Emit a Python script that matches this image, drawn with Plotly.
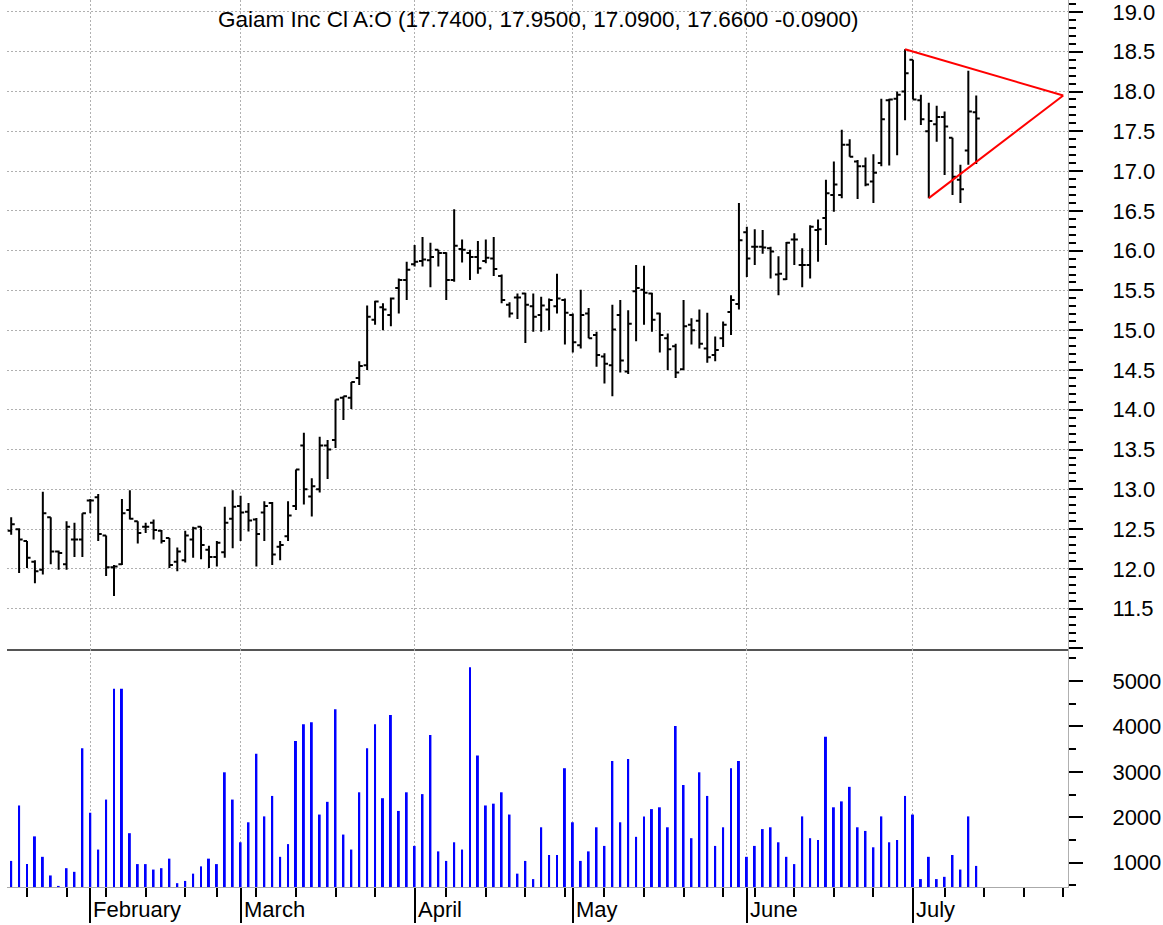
import pandas as pd
import plotly.graph_objects as go

TITLE = "Gaiam Inc Cl A:O (17.7400, 17.9500, 17.0900, 17.6600 -0.0900)"
FONT = "Liberation Sans, Arial, sans-serif"
GRID = "#b0b0b0"
GRID_DASH = "2px,2px"

# daily bars 18 Jan - 13 Jul 2007
opens = [
    12.48, 12.50, 12.35, 12.09, 11.99, 12.65, 12.22, 12.06, 12.37, 12.37,
    12.86, 12.90, 12.42, 12.02, 12.06, 12.74, 12.60, 12.53, 12.58, 12.48,
    12.39, 12.09, 12.11, 12.37, 12.53, 12.24, 12.15, 12.21, 12.63, 12.79,
    12.72, 12.62, 12.71, 12.83, 12.28, 12.41, 12.79, 13.55, 12.91, 13.00,
    13.55, 13.62, 14.15, 14.15, 14.40, 14.56, 15.13, 15.29, 15.19, 15.53,
    15.63, 15.83, 15.87, 15.88, 16.01, 15.97, 15.63, 16.02, 15.97, 15.92,
    15.87, 15.90, 15.68, 15.32, 15.41, 15.46, 15.30, 15.19, 15.26, 15.30,
    15.38, 15.19, 14.81, 15.21, 14.94, 14.67, 14.56, 15.19, 14.48, 15.49,
    15.51, 15.46, 15.21, 14.90, 14.80, 14.51, 15.07, 15.12, 14.77, 14.69,
    14.90, 15.23, 15.33, 16.23, 16.05, 16.05, 16.03, 15.70, 15.64, 16.14,
    15.82, 15.82, 16.26, 16.41, 16.70, 16.70, 17.33, 17.12, 17.06, 16.87,
    17.10, 17.89, 17.91, 18.00, 18.40, 17.89, 17.50, 17.59, 17.68, 17.42,
    16.89, 17.26, 17.74,
]
highs = [
    12.65, 12.51, 12.35, 12.11, 12.97, 12.65, 12.23, 12.60, 12.58, 12.70,
    12.88, 12.94, 12.42, 12.05, 12.88, 12.99, 12.60, 12.58, 12.62, 12.49,
    12.39, 12.27, 12.48, 12.53, 12.53, 12.29, 12.35, 12.78, 12.99, 12.92,
    12.83, 12.64, 12.85, 12.84, 12.35, 12.85, 13.25, 13.71, 13.14, 13.66,
    13.62, 14.13, 14.17, 14.35, 14.61, 15.31, 15.37, 15.34, 15.41, 15.65,
    15.86, 16.07, 16.17, 16.10, 16.01, 15.98, 16.52, 16.14, 16.01, 16.12,
    16.14, 16.17, 15.70, 15.35, 15.46, 15.47, 15.46, 15.42, 15.40, 15.71,
    15.40, 15.21, 15.51, 15.28, 14.98, 14.71, 15.32, 15.38, 15.25, 15.82,
    15.81, 15.47, 15.22, 14.96, 14.83, 15.38, 15.15, 15.26, 15.22, 14.92,
    15.11, 15.44, 16.60, 16.30, 16.27, 16.26, 16.05, 15.93, 16.11, 16.22,
    16.03, 16.32, 16.39, 16.89, 17.12, 17.52, 17.40, 17.14, 17.17, 17.21,
    17.91, 17.91, 18.00, 18.53, 18.40, 17.96, 17.86, 17.82, 17.75, 17.42,
    17.08, 18.26, 17.95,
]
lows = [
    12.43, 11.95, 12.01, 11.82, 11.93, 12.06, 11.99, 11.99, 12.15, 12.15,
    12.70, 12.35, 11.91, 11.66, 12.05, 12.62, 12.32, 12.45, 12.37, 12.32,
    12.01, 11.97, 12.08, 12.14, 12.12, 12.01, 12.03, 12.14, 12.26, 12.35,
    12.47, 12.03, 12.35, 12.05, 12.11, 12.35, 12.74, 12.81, 12.66, 12.96,
    13.13, 13.52, 13.87, 14.01, 14.31, 14.50, 15.07, 15.00, 15.05, 15.21,
    15.38, 15.80, 15.80, 15.54, 15.80, 15.38, 15.61, 15.85, 15.63, 15.71,
    15.84, 15.68, 15.34, 15.16, 15.14, 14.84, 14.98, 14.98, 15.00, 15.21,
    14.82, 14.72, 14.77, 14.90, 14.54, 14.33, 14.17, 14.47, 14.45, 14.86,
    15.07, 14.98, 14.72, 14.50, 14.40, 14.50, 14.82, 14.77, 14.59, 14.61,
    14.79, 14.94, 15.26, 15.67, 15.82, 15.96, 15.65, 15.44, 15.63, 15.82,
    15.54, 15.65, 15.86, 16.07, 16.49, 16.66, 17.18, 16.65, 16.81, 16.60,
    17.06, 17.07, 17.20, 17.64, 17.90, 17.58, 16.66, 17.37, 16.95, 16.70,
    16.60, 17.08, 17.09,
]
closes = [
    12.56, 12.37, 12.14, 11.97, 12.70, 12.22, 12.20, 12.53, 12.37, 12.70,
    12.86, 12.44, 12.02, 12.03, 12.70, 12.63, 12.45, 12.53, 12.49, 12.35,
    12.05, 12.22, 12.42, 12.51, 12.30, 12.15, 12.33, 12.58, 12.78, 12.71,
    12.61, 12.44, 12.79, 12.18, 12.30, 12.67, 13.25, 13.00, 13.04, 13.55,
    13.50, 14.13, 14.17, 14.35, 14.55, 15.17, 15.36, 15.26, 15.40, 15.63,
    15.76, 15.86, 15.89, 15.92, 15.97, 15.63, 16.06, 16.01, 15.92, 15.78,
    15.91, 15.77, 15.38, 15.21, 15.41, 15.32, 15.17, 15.31, 15.38, 15.40,
    15.22, 14.85, 15.19, 14.90, 14.69, 14.58, 15.01, 14.62, 15.08, 15.53,
    15.47, 15.13, 14.94, 14.76, 14.47, 15.05, 15.00, 14.83, 14.66, 14.75,
    15.07, 15.38, 16.13, 15.90, 16.05, 16.04, 15.99, 15.71, 16.10, 16.14,
    15.82, 16.30, 16.27, 16.72, 16.83, 17.33, 17.18, 17.06, 16.83, 16.98,
    17.65, 17.90, 17.96, 18.23, 17.90, 17.65, 17.63, 17.68, 17.56, 16.93,
    16.77, 17.75, 17.66,
]
volumes = [
    1040, 2260, 970, 1580, 1130, 720, 490, 880, 800, 3520,
    2100, 1290, 2390, 4830, 4830, 1650, 970, 970, 850, 880,
    1090, 550, 600, 760, 920, 1090, 970, 2990, 2390, 1450,
    1890, 3400, 2020, 2470, 1130, 1410, 3680, 4050, 4090, 2060,
    2340, 4380, 1620, 1290, 2550, 3520, 4050, 2420, 4250, 2140,
    2550, 1370, 2510, 3810, 1250, 1040, 1450, 1290, 5300, 3360,
    2260, 2300, 2550, 2060, 760, 1040, 640, 1780, 1170, 1170,
    3080, 1890, 1040, 1250, 1780, 1370, 3240, 1890, 3280, 1570,
    2020, 2180, 2220, 1780, 4010, 2710, 1540, 2990, 2470, 1370,
    1780, 3080, 3240, 1130, 1370, 1740, 1780, 1450, 1130, 970,
    2020, 1540, 1500, 3770, 2220, 2350, 2670, 1780, 1700, 1340,
    2020, 1450, 1500, 2470, 2060, 640, 1130, 640, 690, 1170,
    850, 2020, 930,
]

month_names = ["February", "March", "April", "May", "June", "July"]
holidays = ["2007-02-19", "2007-04-06", "2007-05-28", "2007-07-04"]

# pennant drawn on the chart: from the 18.53 high and the 16.66 low to the apex
pennant_start = [113, 116]
apex_idx = 133
apex_price = 17.95

sessions = pd.bdate_range("2007-01-18", "2007-08-03")
sessions = sessions[~sessions.isin(pd.to_datetime(holidays))]
idx = list(range(len(closes)))

month_idx = [i for i in range(1, len(sessions))
             if sessions[i].month != sessions[i - 1].month][:len(month_names)]
week_idx = [i for i in range(1, len(sessions))
            if sessions[i].isocalendar().week != sessions[i - 1].isocalendar().week]

fig = go.Figure()

fig.add_trace(go.Ohlc(
    x=idx, open=opens, high=highs, low=lows, close=closes,
    increasing_line_color="black", decreasing_line_color="black",
    line_width=2, tickwidth=0.45, xaxis="x", yaxis="y", hoverinfo="skip",
))

fig.add_trace(go.Bar(
    x=idx, y=volumes, width=0.25, marker_color="#0000ff", marker_line_width=0,
    xaxis="x2", yaxis="y2", hoverinfo="skip",
))

top_i, bot_i = pennant_start
for xs, ys in [([top_i, apex_idx], [highs[top_i], apex_price]),
               ([bot_i, apex_idx], [lows[bot_i], apex_price])]:
    fig.add_trace(go.Scatter(
        x=xs, y=ys, mode="lines", line=dict(color="#ff0000", width=2),
        xaxis="x", yaxis="y", hoverinfo="skip",
    ))

xrange = [-0.53, 133.6]
price_ticks = [11.0 + 0.5 * k for k in range(17)]
price_text = ["" if v == 11.0 else f"{v:.1f}" for v in price_ticks]

fig.update_layout(
    width=1163,
    height=925,
    margin=dict(l=7, r=95, t=0, b=38),
    paper_bgcolor="white",
    plot_bgcolor="white",
    showlegend=False,
    font=dict(family=FONT, size=22, color="black"),
    xaxis=dict(
        domain=[0, 1], anchor="y", range=xrange, rangeslider=dict(visible=False),
        tickmode="array", tickvals=month_idx, showticklabels=False, ticks="",
        showgrid=True, gridcolor=GRID, griddash=GRID_DASH, gridwidth=1,
        showline=True, linecolor="#555555", linewidth=2, zeroline=False,
    ),
    xaxis2=dict(
        domain=[0, 1], anchor="y2", range=xrange, matches="x",
        tickmode="array", tickvals=month_idx, showticklabels=False,
        ticks="outside", ticklen=35, tickwidth=2, tickcolor="black",
        minor=dict(tickmode="array", tickvals=week_idx, ticks="outside",
                   ticklen=9, tickwidth=2, tickcolor="black", showgrid=False),
        showgrid=True, gridcolor=GRID, griddash=GRID_DASH, gridwidth=1,
        showline=True, linecolor="#aaaaaa", linewidth=1, zeroline=False,
    ),
    yaxis=dict(
        domain=[0.268, 1], anchor="x", side="right", range=[10.99, 19.15],
        tickmode="array", tickvals=price_ticks, ticktext=price_text,
        ticks="outside", ticklen=14, tickwidth=1.5, tickcolor="black",
        minor=dict(tickmode="linear", tick0=0, dtick=0.1, ticks="outside",
                   ticklen=7, tickwidth=1.5, tickcolor="black", showgrid=False),
        showgrid=True, gridcolor=GRID, griddash=GRID_DASH, gridwidth=1,
        showline=True, linecolor="#b0b0b0", linewidth=1, zeroline=False,
        ticklabelstandoff=25, ticklabeloverflow="allow",
    ),
    yaxis2=dict(
        domain=[0, 0.268], anchor="x2", side="right", range=[466, 5697],
        tickmode="array", tickvals=[1000, 2000, 3000, 4000, 5000],
        ticks="outside", ticklen=14, tickwidth=1.5, tickcolor="black",
        minor=dict(tickmode="linear", tick0=0, dtick=500, ticks="outside",
                   ticklen=7, tickwidth=1.5, tickcolor="black", showgrid=False),
        showgrid=False, showline=True, linecolor="#b0b0b0", linewidth=1,
        zeroline=False, ticklabelstandoff=25, ticklabeloverflow="allow",
    ),
)

fig.add_annotation(
    text=TITLE, xref="paper", yref="paper", x=0.5, y=1, xanchor="center",
    yanchor="top", yshift=-5, showarrow=False, font=dict(size=22.5),
)

for name, i in zip(month_names, month_idx):
    fig.add_annotation(
        text=name, xref="x2", yref="paper", x=i, y=0, xanchor="left",
        yanchor="top", xshift=1, yshift=-8, showarrow=False, font=dict(size=22),
    )

# the page's default body margin would push the fixed-size figure off the window
fig.write_html(
    "out.html",
    config={"displayModeBar": False},
    post_script="document.body.style.margin = '0';",
)
